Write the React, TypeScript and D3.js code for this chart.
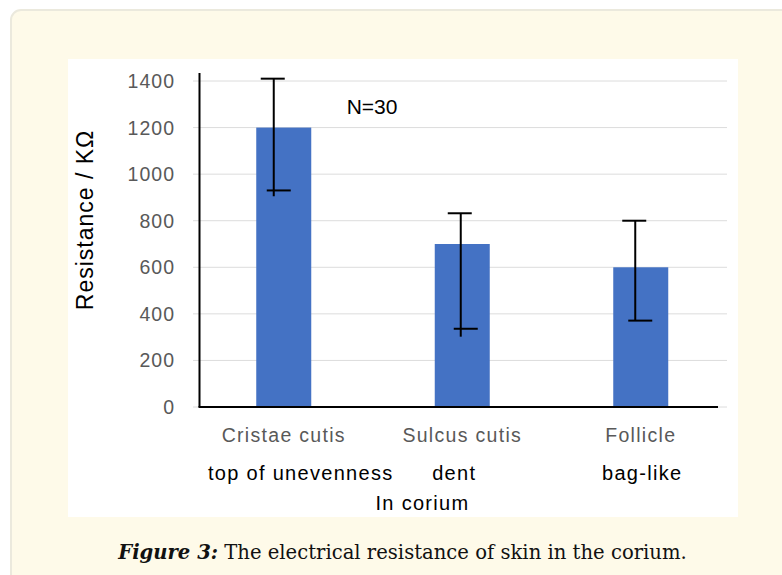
import React from "react";
import * as d3 from "d3";

const categories = ["Cristae cutis", "Sulcus cutis", "Follicle"];
const subLabels = ["top of unevenness", "dent", "bag-like"];
const means = [1200, 700, 600];
const errUpper = [1410, 832, 800];
const errLower = [930, 336, 371];
const stemEnd = [905, 302, 371];
const yTicks = [0, 200, 400, 600, 800, 1000, 1200, 1400];
const xTitle = "In corium";
const yTitle = "Resistance / KΩ";
const note = "N=30";

// styling offsets (hand-placed annotations in the original)
const ERR_DX = [-10, -1.5, -5.5];
const SUB_DX = [17, -8, 1.5];

const W = 782;
const H = 575;

export default function App() {
  const x = d3.scaleBand<string>().domain(categories).range([194.5, 730]).padding(0);
  const y = d3.scaleLinear().domain([0, 1400]).range([407, 81]);
  const barW = 55;
  const cx = (c: string) => (x(c) as number) + x.bandwidth() / 2;
  const sans = "'Liberation Sans', Arial, sans-serif";
  return (
    <svg
      width={W}
      height={H}
      style={{ position: "absolute", left: 0, top: 0, background: "#ffffff" }}
    >
      <rect x={11} y={10} width={800} height={600} rx={10} ry={10} fill="#fefae9" stroke="#ebe9dd" strokeWidth={2} />
      <rect x={68} y={59} width={670} height={458} fill="#ffffff" />
      {/* gridlines */}
      {yTicks.map((t) => (
        <line key={"g" + t} x1={193} x2={727} y1={y(t)} y2={y(t)} stroke="#dcdcdc" strokeWidth={1} />
      ))}
      {/* bars */}
      {categories.map((c, i) => (
        <rect key={"b" + c} x={cx(c) - barW / 2} y={y(means[i])} width={barW} height={y(0) - y(means[i])} fill="#4472c4" />
      ))}
      {/* axes */}
      <line x1={199.5} x2={199.5} y1={73} y2={407} stroke="#000" strokeWidth={2} />
      <line x1={198.5} x2={718} y1={407} y2={407} stroke="#000" strokeWidth={1.8} />
      {/* error bars */}
      {categories.map((c, i) => {
        const vx = cx(c) + ERR_DX[i];
        return (
          <g key={"e" + c} stroke="#000" strokeWidth={2}>
            <line x1={vx} x2={vx} y1={y(errUpper[i])} y2={y(Math.min(stemEnd[i], errLower[i]))} />
            <line x1={vx - 13} x2={vx + 11} y1={y(errUpper[i])} y2={y(errUpper[i])} />
            <line x1={vx - 7} x2={vx + 17} y1={y(errLower[i])} y2={y(errLower[i])} />
          </g>
        );
      })}
      {/* y tick labels */}
      {yTicks.map((t) => (
        <text key={"t" + t} x={175} y={y(t)} dy="0.36em" textAnchor="end" fontFamily={sans} fontSize={19.5} letterSpacing={1} fill="#595959">
          {t}
        </text>
      ))}
      {/* y title */}
      <text
        transform={`translate(93,220) rotate(-90)`}
        textAnchor="middle"
        fontFamily={sans}
        fontSize={23}
        letterSpacing={1}
        fill="#000"
      >
        {yTitle}
      </text>
      {/* category labels */}
      {categories.map((c) => (
        <text key={"c" + c} x={cx(c)} y={441.7} textAnchor="middle" fontFamily={sans} fontSize={19.5} letterSpacing={1.3} fill="#595959">
          {c}
        </text>
      ))}
      {subLabels.map((s, i) => (
        <text key={"s" + s} x={cx(categories[i]) + SUB_DX[i]} y={480} textAnchor="middle" fontFamily={sans} fontSize={20} letterSpacing={1.3} fill="#000">
          {s}
        </text>
      ))}
      <text x={422.5} y={510} textAnchor="middle" fontFamily={sans} fontSize={20} letterSpacing={1.3} fill="#000">
        {xTitle}
      </text>
      <text x={346.7} y={114} fontFamily={sans} fontSize={21} fill="#000">
        {note}
      </text>
      {/* caption */}
      <text x={402.5} y={559} textAnchor="middle" fontFamily="'DejaVu Serif', serif" fontSize={19.6} fill="#111">
        <tspan fontWeight="bold" fontStyle="italic">Figure 3:</tspan>
        <tspan> The electrical resistance of skin in the corium.</tspan>
      </text>
    </svg>
  );
}
